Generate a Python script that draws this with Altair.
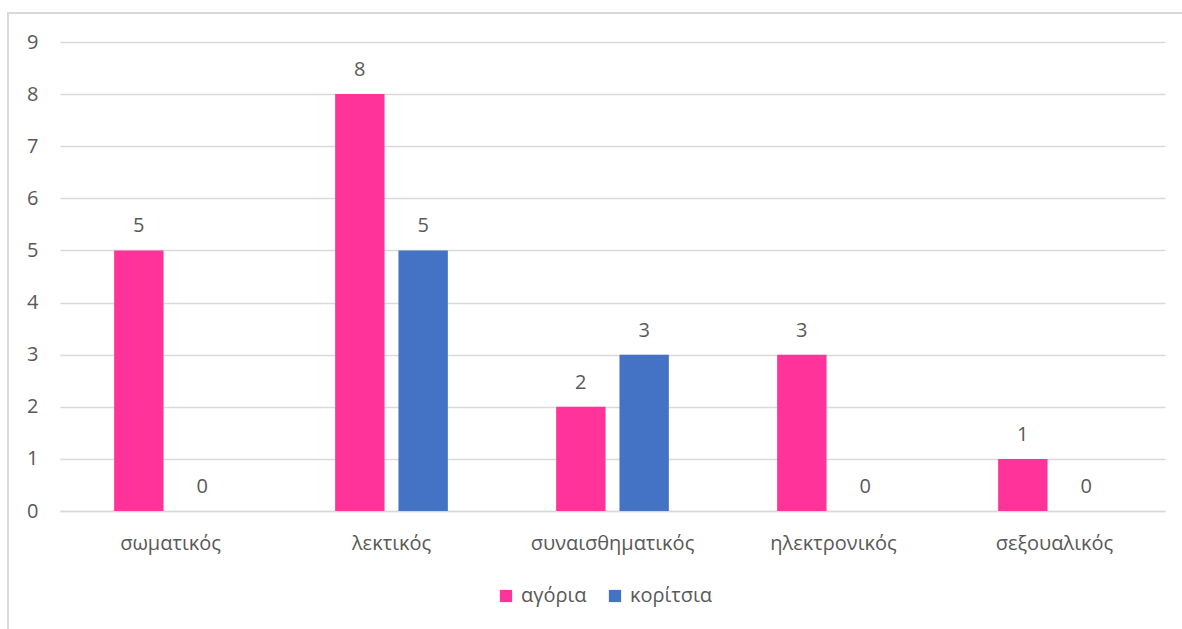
import altair as alt
import pandas as pd

categories = ["σωματικός", "λεκτικός", "συναισθηματικός", "ηλεκτρονικός", "σεξουαλικός"]
series = ["αγόρια", "κορίτσια"]
boys = [5, 8, 2, 3, 1]
girls = [0, 5, 3, 0, 0]
colors = ["#FF3399", "#4472C4"]

rows = []
for c, b, g in zip(categories, boys, girls):
    rows.append({"cat": c, "series": series[0], "value": b})
    rows.append({"cat": c, "series": series[1], "value": g})
df = pd.DataFrame(rows)

FONT = "Open Sans"
TXT = "#595959"
FS = 20

base = alt.Chart(df).encode(
    x=alt.X("cat:N", sort=categories, title=None,
            scale=alt.Scale(paddingInner=0.49, paddingOuter=0.245),
            axis=alt.Axis(labelAngle=0, labelFontSize=FS, labelColor=TXT, labelFont=FONT,
                          ticks=False, domain=True, domainColor="#d9d9d9", domainWidth=1.5,
                          labelPadding=22)),
    xOffset=alt.XOffset("series:N", sort=series,
                        scale=alt.Scale(paddingInner=0.22, paddingOuter=0)),
)

bars = base.mark_bar().encode(
    y=alt.Y("value:Q", title=None,
            scale=alt.Scale(domain=[0, 9], nice=False),
            axis=alt.Axis(values=list(range(10)), tickCount=10, labelFontSize=FS, labelColor=TXT,
                          labelFont=FONT, ticks=False, domain=False, gridColor="#d9d9d9",
                          gridWidth=1.5, labelPadding=22)),
    color=alt.Color("series:N", sort=series,
                    scale=alt.Scale(domain=series, range=colors),
                    legend=alt.Legend(title=None, orient="none", direction="horizontal",
                                      legendX=436, legendY=544, symbolType="square",
                                      symbolSize=150, symbolStrokeWidth=0, labelFontSize=FS,
                                      labelColor=TXT, labelFont=FONT, columnPadding=18,
                                      labelOffset=5)),
)

labels = base.mark_text(baseline="bottom", dy=-14, fontSize=FS, color=TXT, font=FONT).encode(
    y=alt.Y("value:Q"),
    text=alt.Text("value:Q"),
)

frame = alt.Chart(df).mark_rect(fill=None, stroke="#d9d9d9", strokeWidth=2).encode(
    x=alt.value(-52), x2=alt.value(1140), y=alt.value(-29), y2=alt.value(620)
)

chart = alt.layer(frame, bars, labels).properties(
    width=1105, height=469,
    autosize=alt.AutoSizeParams(type="none"),
    padding={"left": 60, "top": 42, "right": 17, "bottom": 118},
    background="white",
).configure_view(stroke=None)

chart.save("out.html", embed_options={"renderer": "svg", "actions": False})
